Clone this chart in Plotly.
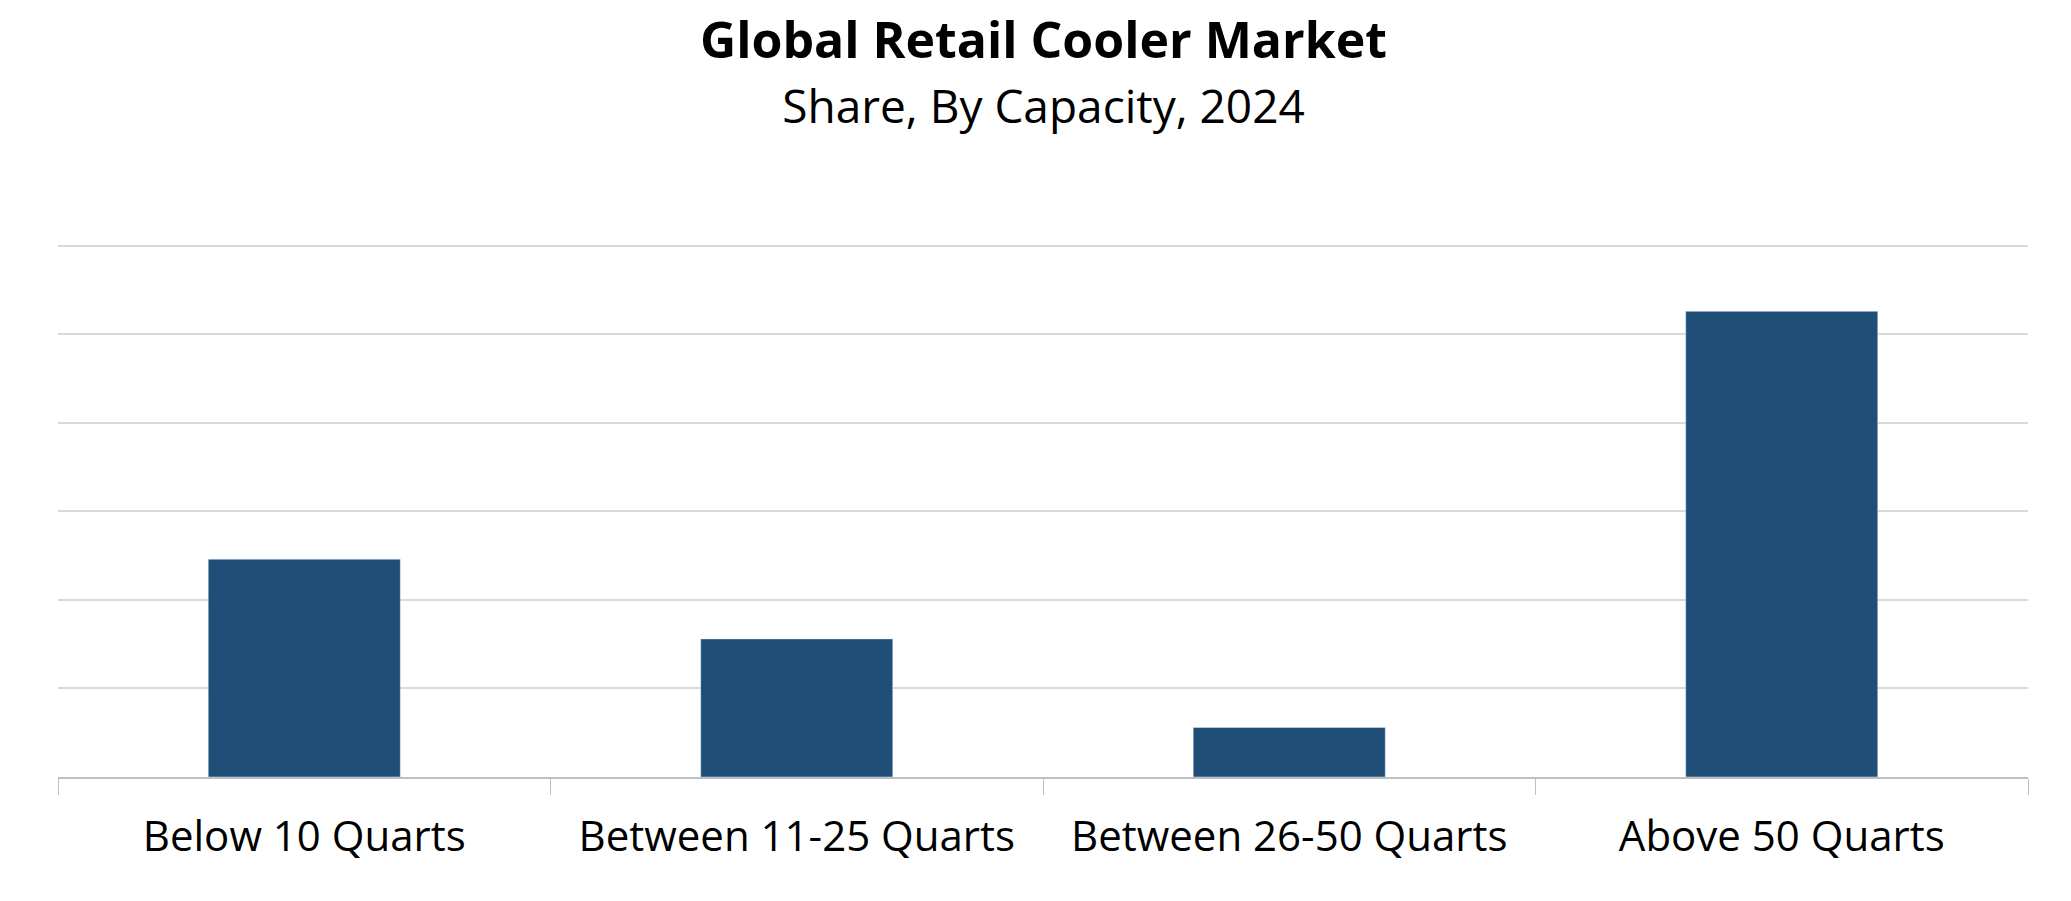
import plotly.graph_objects as go

categories = ["Below 10 Quarts", "Between 11-25 Quarts", "Between 26-50 Quarts", "Above 50 Quarts"]
shares = [24.6, 15.6, 5.6, 52.6]

fig = go.Figure(go.Bar(x=categories, y=shares, marker_color="#1F4E79", width=0.39))
fig.update_layout(
    width=2071, height=901, plot_bgcolor="white", paper_bgcolor="white",
    margin=dict(l=50, r=51, t=236, b=132),
    font=dict(family="Open Sans, Noto Sans, sans-serif", color="black"),
    title=dict(text="<b>Global Retail Cooler Market</b><br><span style='font-size:46px'>Share, By Capacity, 2024</span>",
               x=0.5, xanchor="center", y=0.945, yanchor="top", font=dict(size=50)),
    showlegend=False,
)
fig.update_xaxes(tickson="boundaries", ticks="outside", ticklen=16, tickcolor="#BFBFBF",
                 showline=True, linecolor="#BFBFBF", linewidth=2, tickfont=dict(size=42),
                 ticklabelstandoff=22)
fig.update_yaxes(range=[0, 60.2], dtick=10, showticklabels=False, gridcolor="#D9D9D9", gridwidth=2,
                 zeroline=False)
fig.write_html("out.html")
